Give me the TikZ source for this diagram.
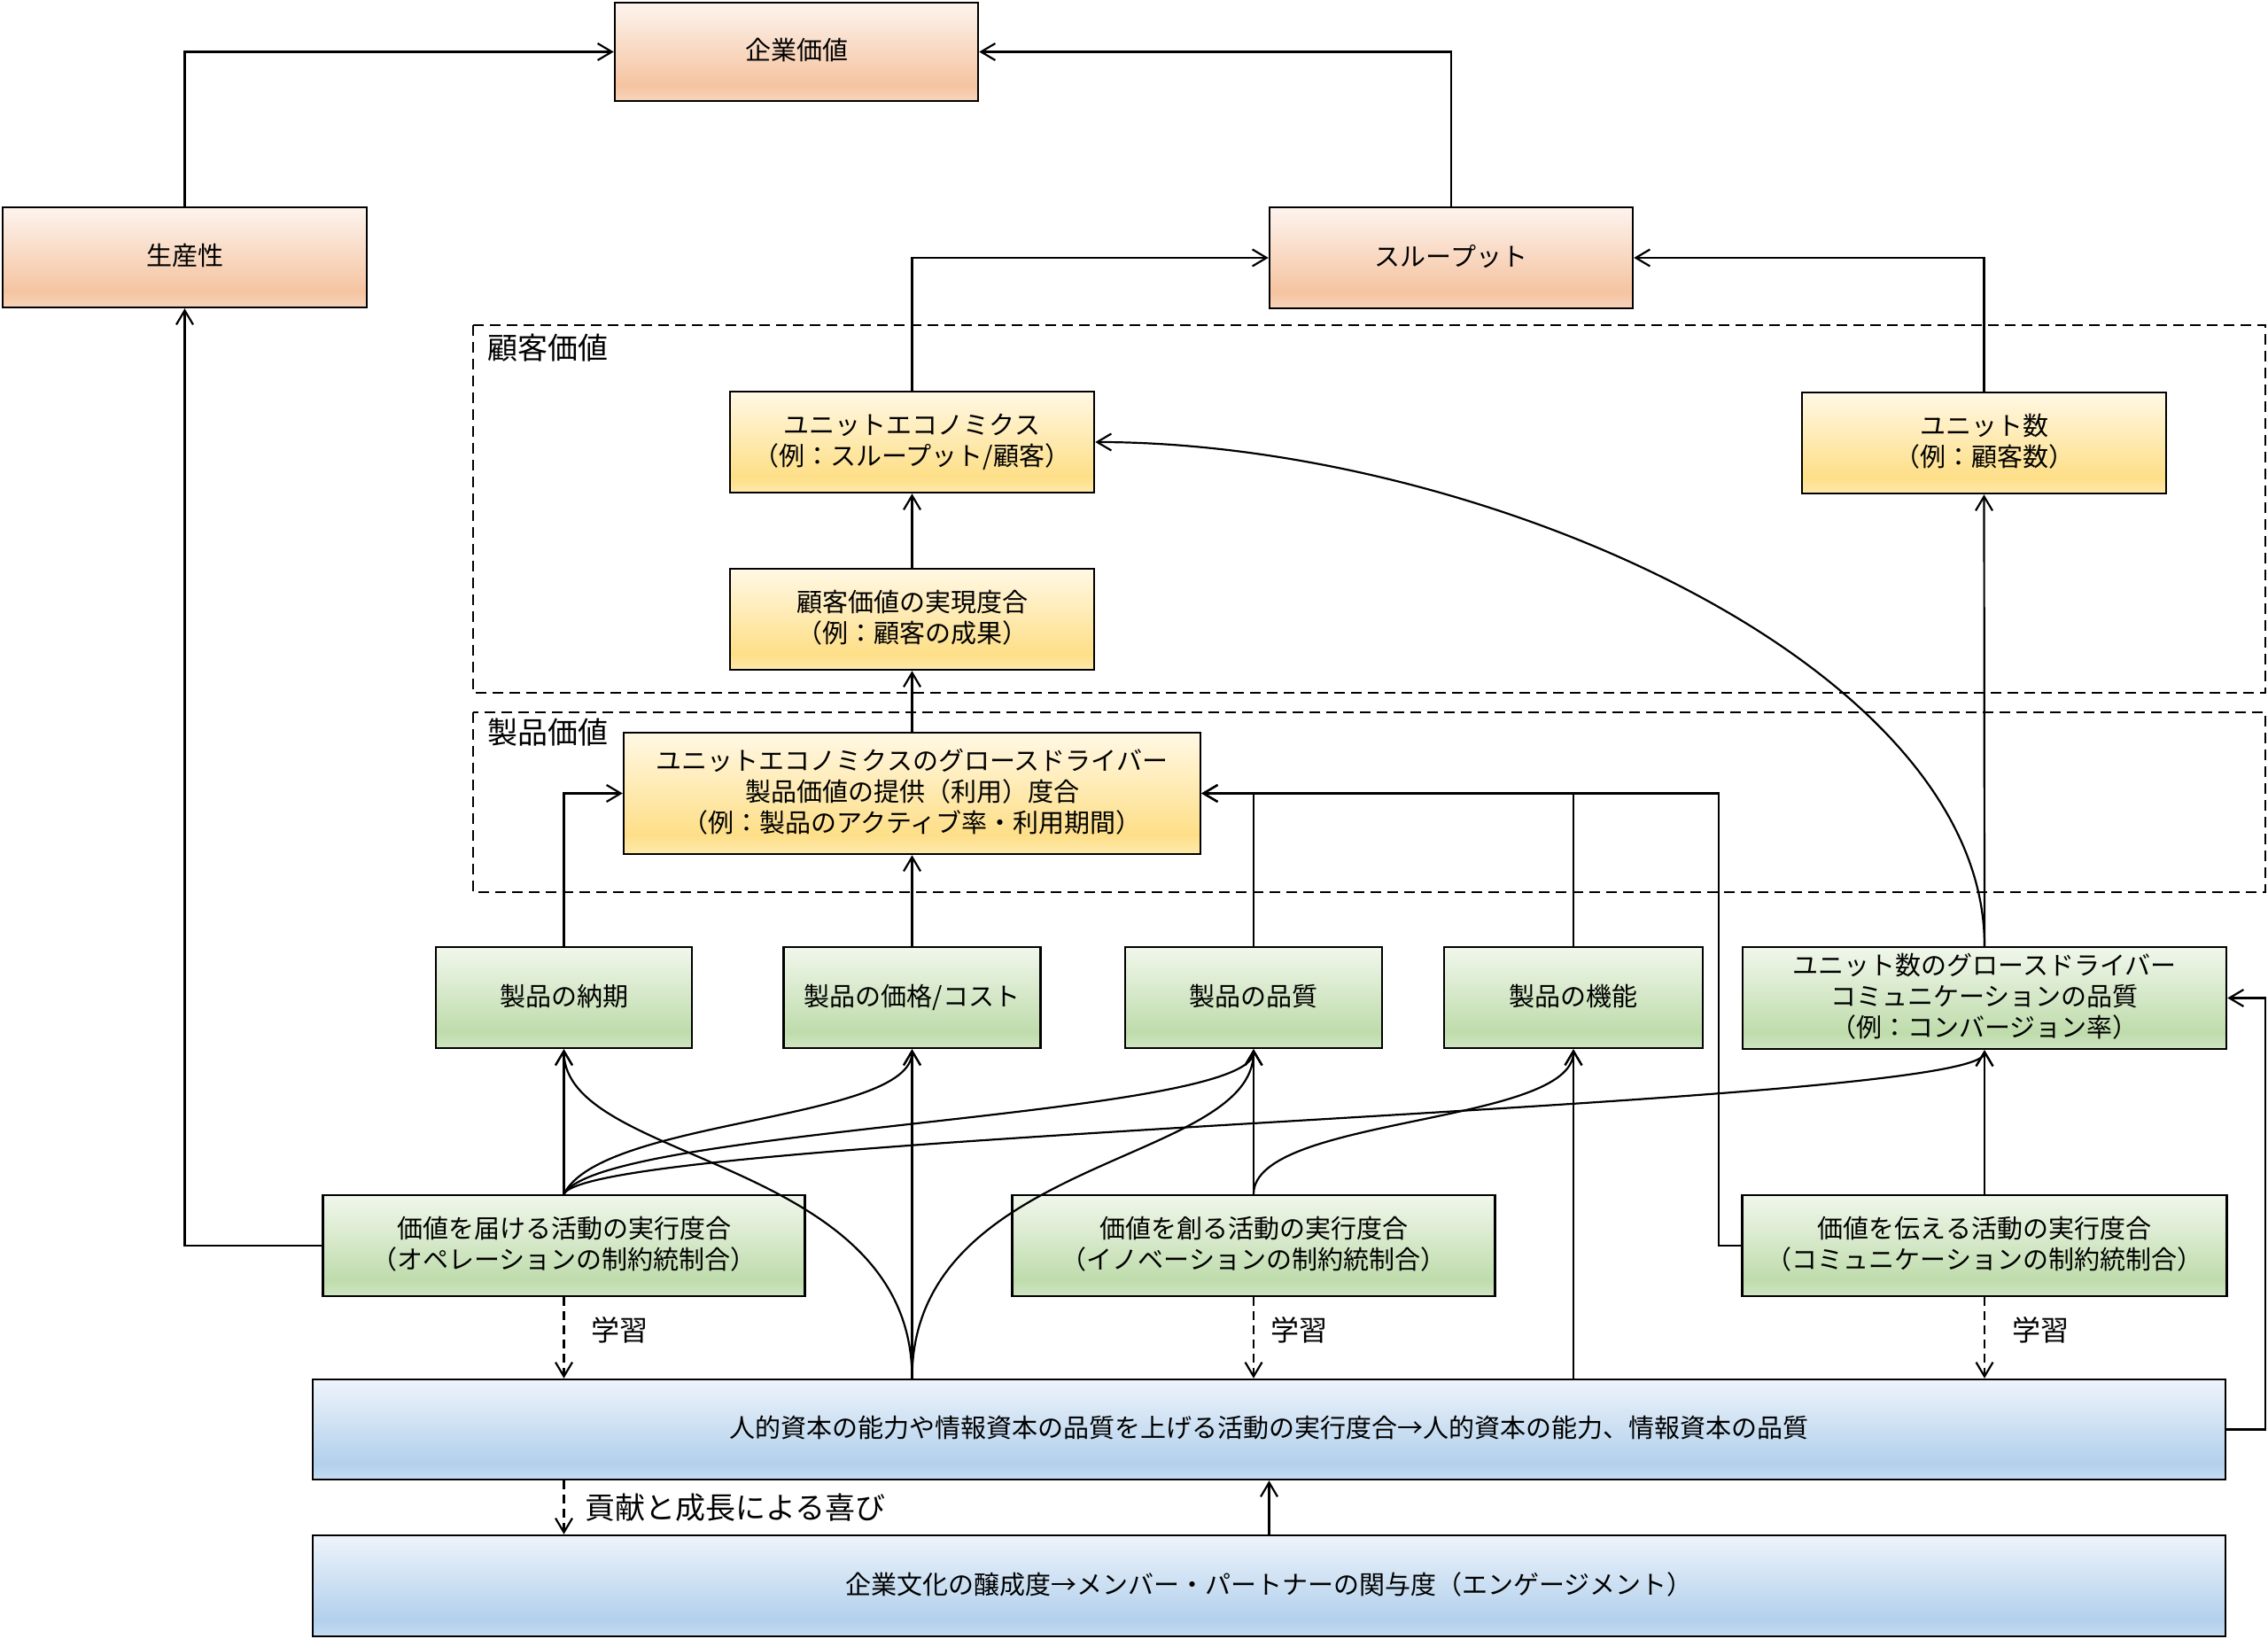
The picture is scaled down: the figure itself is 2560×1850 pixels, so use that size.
\documentclass[tikz,border=0pt]{standalone}
\usepackage{fontspec}
\setmainfont{Noto Sans CJK JP}
\newfontfamily\jp{Noto Sans CJK JP}
\usetikzlibrary{arrows.meta,calc}

\definecolor{orT}{HTML}{FDF4EE}
\definecolor{orM}{HTML}{F5C4A1}
\definecolor{orB}{HTML}{F8D4BB}
\definecolor{yeT}{HTML}{FFF8E5}
\definecolor{yeM}{HTML}{FEDF88}
\definecolor{yeB}{HTML}{FEE9AC}
\definecolor{grT}{HTML}{F1F7EC}
\definecolor{grM}{HTML}{BFDCAC}
\definecolor{grB}{HTML}{CFE5C2}
\definecolor{blT}{HTML}{EEF4FB}
\definecolor{blM}{HTML}{B2D0EC}
\definecolor{blB}{HTML}{C6DCF1}

\pgfdeclareverticalshading{shOr}{100bp}{color(0bp)=(orB); color(25bp)=(orB); color(33bp)=(orM); color(75bp)=(orT); color(100bp)=(orT)}
\pgfdeclareverticalshading{shYe}{100bp}{color(0bp)=(yeB); color(25bp)=(yeB); color(33bp)=(yeM); color(75bp)=(yeT); color(100bp)=(yeT)}
\pgfdeclareverticalshading{shGr}{100bp}{color(0bp)=(grB); color(25bp)=(grB); color(33bp)=(grM); color(75bp)=(grT); color(100bp)=(grT)}
\pgfdeclareverticalshading{shBl}{100bp}{color(0bp)=(blB); color(25bp)=(blB); color(33bp)=(blM); color(75bp)=(blT); color(100bp)=(blT)}

\tikzset{
  box/.style={draw=black, line width=1.25pt, inner sep=0pt, align=center,
    font=\jp\fontsize{14.5}{17.5}\selectfont, text=black,
    execute at end node={\rule[-3pt]{0pt}{0pt}}},
  wh/.style 2 args={minimum width=#1*0.5pt, minimum height=#2*0.5pt},
  obox/.style={box, shade, shading=shOr},
  ybox/.style={box, shade, shading=shYe},
  gbox/.style={box, shade, shading=shGr},
  bbox/.style={box, shade, shading=shBl},
  conn/.style={line width=1.1pt, -{Straight Barb[length=8pt,width=9.5pt]}},
  dconn/.style={conn, dash pattern=on 5pt off 3pt},
  grp/.style={line width=1.1pt, dash pattern=on 6pt off 3.5pt},
  lbl/.style={inner sep=0pt, anchor=west, font=\jp\fontsize{17}{20}\selectfont},
  slbl/.style={inner sep=0pt, anchor=west, font=\jp\fontsize{16}{19}\selectfont},
}

\begin{document}
\begin{tikzpicture}[x=0.5pt, y=-0.5pt]
\useasboundingbox (0,0) rectangle (2560,1850);

% group frames
\draw[grp] (534,367) rectangle (2557,782);
\draw[grp] (534,804) rectangle (2557,1007);
\node[lbl] (lkokyaku) at (550,393) {顧客価値};
\node[lbl] (lseihin) at (550,827) {製品価値};

% nodes
\node[obox, wh={410}{111}] (kigyo) at (899,58.5) {企業価値};
\node[obox, wh={411}{113}] (seisan) at (208.5,290.5) {生産性};
\node[obox, wh={410}{114}] (thru) at (1638,291) {スループット};

\node[ybox, wh={411}{114}] (ue) at (1029.5,499) {ユニットエコノミクス\\（例：スループット/顧客）};
\node[ybox, wh={411}{114}] (un) at (2239.5,500) {ユニット数\\（例：顧客数）};
\node[ybox, wh={411}{114}] (cv) at (1029.5,699) {顧客価値の実現度合\\（例：顧客の成果）};
\node[ybox, wh={651}{137}] (gd) at (1029.5,895.5) {ユニットエコノミクスのグロースドライバー\\製品価値の提供（利用）度合\\（例：製品のアクティブ率・利用期間）};

\node[gbox, wh={289}{114}] (nouki) at (636.5,1126) {製品の納期};
\node[gbox, wh={290}{114}] (kakaku) at (1029.5,1126) {製品の価格/コスト};
\node[gbox, wh={290}{114}] (hin) at (1415,1126) {製品の品質};
\node[gbox, wh={292}{114}] (kinou) at (1776,1126) {製品の機能};
\node[gbox, wh={546}{115}] (ugd) at (2240,1126.5) {ユニット数のグロースドライバー\\コミュニケーションの品質\\（例：コンバージョン率）};

\node[gbox, wh={544}{114}] (tod) at (636.5,1406) {価値を届ける活動の実行度合\\（オペレーションの制約統制合）};
\node[gbox, wh={545}{114}] (tsuku) at (1415,1406) {価値を創る活動の実行度合\\（イノベーションの制約統制合）};
\node[gbox, wh={547}{114}] (tsuta) at (2240,1406) {価値を伝える活動の実行度合\\（コミュニケーションの制約統制合）};

\node[bbox, wh={2159}{113}] (jin) at (1432.5,1613.5) {人的資本の能力や情報資本の品質を上げる活動の実行度合→人的資本の能力、情報資本の品質};
\node[bbox, wh={2159}{114}] (kb) at (1432.5,1790) {企業文化の醸成度→メンバー・パートナーの関与度（エンゲージメント）};

\node[slbl] (gk1) at (667,1501) {学習};
\node[slbl] (gk2) at (1434,1501) {学習};
\node[slbl] (gk3) at (2271,1501) {学習};
\node[lbl] (kouken) at (660,1702) {貢献と成長による喜び};

\coordinate (jA) at (jin.north -| kakaku.south);
\coordinate (jB) at (jin.north -| kinou.south);

% top connectors
\draw[conn] (seisan.north) |- (kigyo.west);
\draw[conn] (thru.north) |- (kigyo.east);
\draw[conn] (ue.north) |- (thru.west);
\draw[conn] (un.north) |- (thru.east);
\draw[conn] (cv.north) -- (ue.south);
\draw[conn] (gd.north) -- (cv.south);

% product value drivers
\draw[conn] (nouki.north) |- (gd.west);
\draw[conn] (kakaku.north) -- (gd.south);
\draw[conn] (hin.north) |- (gd.east);
\draw[conn] (kinou.north) |- (gd.east);
\draw[conn] (tsuta.west) -- ++(-25,0) |- (gd.east);
\draw[conn] (ugd.north) -- (un.south);
\draw[conn] (ugd.north) .. controls +(0,-320) and +(430,0) .. (ue.east);

% from 届ける
\draw[conn] (tod.west) -| (seisan.south);
\draw[conn] (tod.north) -- (nouki.south);
\draw[conn] (tod.north) .. controls (680,1262) and (1029.5,1266) .. (kakaku.south);
\draw[conn] (tod.north) .. controls (680,1272) and (1415,1262) .. (hin.south);
\draw[conn] (tod.north) .. controls (670,1280) and (2240,1250) .. (ugd.south);

% from 人的資本
\draw[conn] (jA) -- (kakaku.south);
\draw[conn] (jA) .. controls +(0,-250) and +(0,130) .. (nouki.south);
\draw[conn] (jA) .. controls +(0,-250) and +(0,130) .. (hin.south);
\draw[conn] (jB) -- (kinou.south);

% from 創る / 伝える
\draw[conn] (tsuku.north) -- (hin.south);
\draw[conn] (tsuku.north) .. controls (1415,1260) and (1776,1270) .. (kinou.south);
\draw[conn] (tsuta.north) -- (ugd.south);

% learning
\draw[dconn] (tod.south) -- (tod.south |- jin.north);
\draw[dconn] (tsuku.south) -- (tsuku.south |- jin.north);
\draw[dconn] (tsuta.south) -- (tsuta.south |- jin.north);

% bottom
\draw[dconn] (jin.south -| tod.south) -- (kb.north -| tod.south);
\draw[conn] (kb.north) -- (jin.south);
\draw[conn] (jin.east) -- ++(44,0) |- (ugd.east);
\end{tikzpicture}
\end{document}
